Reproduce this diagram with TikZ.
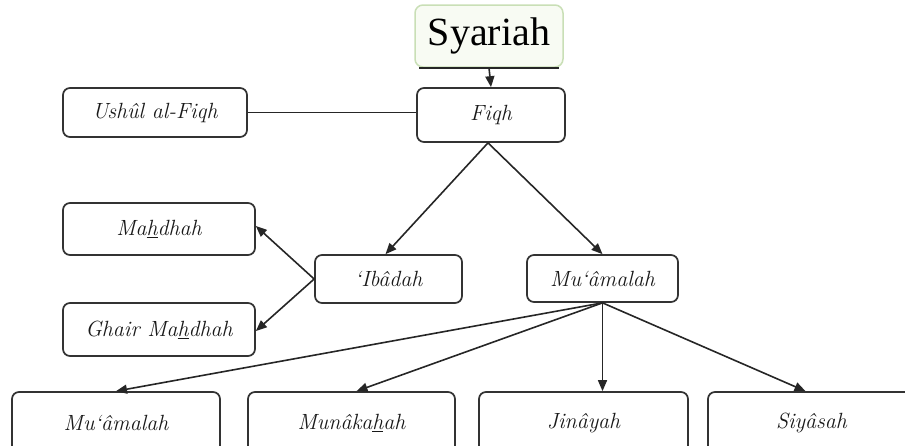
\documentclass[tikz,border=0pt]{standalone}
\usepackage{fontspec}
\newfontfamily\syfont{Liberation Serif}
\usetikzlibrary{arrows.meta}
\definecolor{sygreen}{HTML}{C9DFB6}
\definecolor{syfill}{HTML}{F8FBF3}
\definecolor{edge}{HTML}{333333}
\begin{document}
\begin{tikzpicture}[x=1pt,y=-1pt,
  box/.style={draw=edge, line width=1.7pt, rounded corners=7pt, inner sep=0pt,
    font=\fontsize{22}{26}\selectfont\itshape, text=black!90},
  arr/.style={draw=black!85, line width=1.6pt, -{Triangle[length=11pt,width=9pt]}},
  plain/.style={draw=black!85, line width=1.6pt}]
\useasboundingbox (0,0) rectangle (905,445);
\clip (0,0) rectangle (905,445);
% top
\node[draw=sygreen, fill=syfill, line width=1.5pt, rounded corners=8pt,
  minimum width=148pt, minimum height=62pt, inner sep=0pt,
  font=\syfont\fontsize{40}{44}\selectfont] (sy) at (489,36) {Syariah};
\draw[plain] ([xshift=5pt]sy.south west) -- ([xshift=-5pt]sy.south east);
\node[box, minimum width=148pt, minimum height=54pt] (fiqh) at (491,115) {Fiqh};
\node[box, minimum width=184pt, minimum height=49pt] (ushul) at (155,112.5) {Ushûl al-Fiqh};
% middle
\node[box, minimum width=192pt, minimum height=52pt] (mahdhah) at (159,229) {Ma\underline{h}dhah};
\node[box, minimum width=192pt, minimum height=53pt] (ghair) at (159,329.5) {Ghair Ma\underline{h}dhah};
\node[box, minimum width=147pt, minimum height=48pt] (ibadah) at (388.5,279) {‘Ibâdah};
\node[box, minimum width=151pt, minimum height=47pt] (muam) at (602.5,278.5) {Mu‘âmalah};
% bottom
\node[box, minimum width=208pt, minimum height=62pt] (b1) at (116,423) {Mu‘âmalah};
\node[box, minimum width=207pt, minimum height=62pt] (b2) at (351.5,423) {Munâka\underline{h}ah};
\node[box, minimum width=209pt, minimum height=62pt] (b3) at (583.5,423) {Jinâyah};
\node[box, minimum width=207pt, minimum height=62pt] (b4) at (811.5,423) {Siyâsah};
% connectors
\draw[arr] (sy.south) -- (fiqh.north);
\draw[plain] (ushul.east) -- (ushul.east -| fiqh.west);
\draw[arr] ([xshift=-3pt]fiqh.south) -- ([xshift=-3pt]ibadah.north);
\draw[arr] ([xshift=-3pt]fiqh.south) -- (muam.north);
\draw[arr] (ibadah.west) -- ([yshift=3pt]mahdhah.east);
\draw[arr] (ibadah.west) -- ([yshift=-1.5pt]ghair.east);
\draw[arr] (muam.south) -- (b1.north);
\draw[arr] (muam.south) -- ([xshift=5pt]b2.north);
\draw[arr] (muam.south) -- (muam.south |- b3.north);
\draw[arr] (muam.south) -- ([xshift=-6pt]b4.north);
\end{tikzpicture}
\end{document}
